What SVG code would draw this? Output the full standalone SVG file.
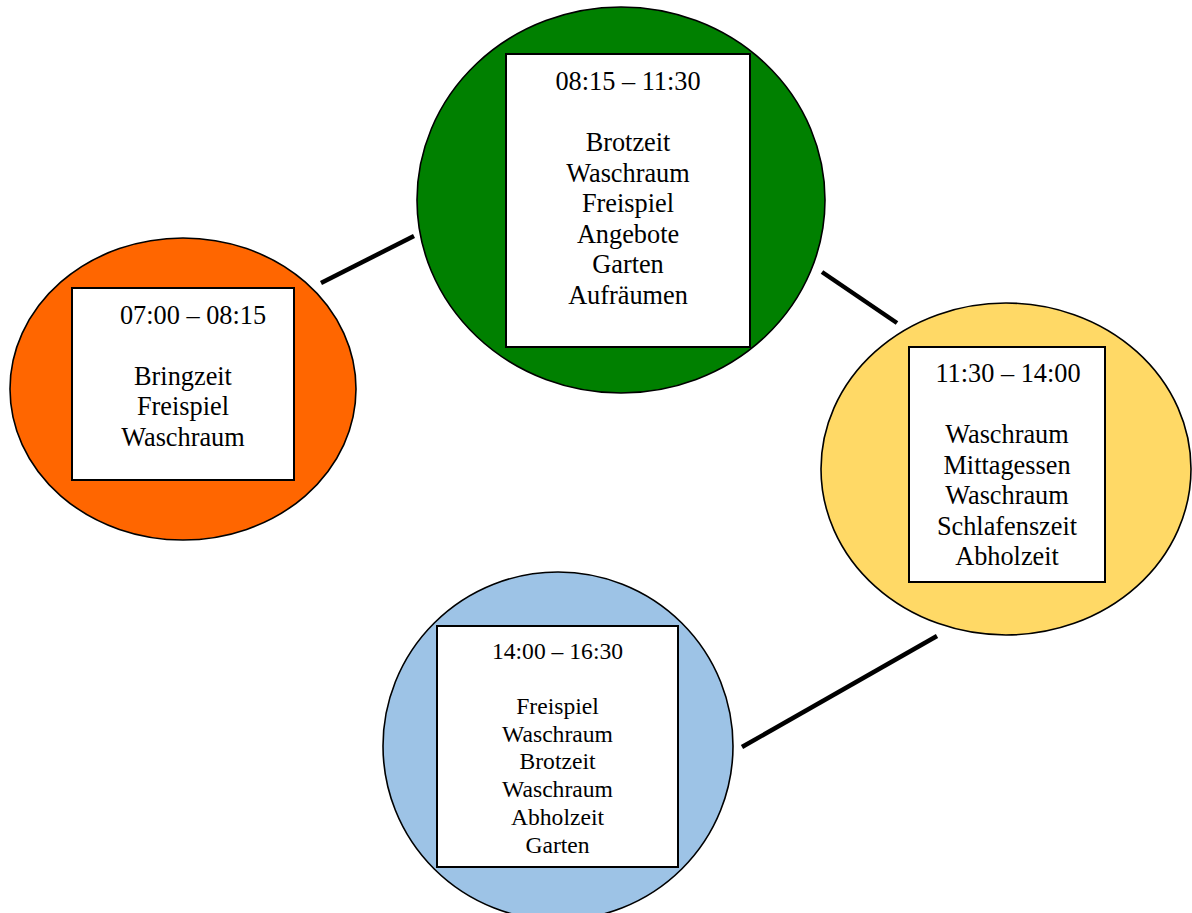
<svg xmlns="http://www.w3.org/2000/svg" width="1192" height="913" viewBox="0 0 1192 913">
<style>
.bg{stroke:#000;stroke-width:1.6}
.box{fill:#fff;stroke:#000;stroke-width:2}
text{font-family:"Liberation Serif","Times New Roman",serif;fill:#000;text-anchor:middle}
.t{font-size:26.3px}
.s{font-size:23.6px}
.con line{stroke:#000;stroke-width:4.5}
</style>
<rect width="1192" height="913" fill="#fff"/>
<g id="node-morning">
<ellipse class="bg" cx="183" cy="389" rx="173" ry="151" fill="#FF6600"/>
<rect class="box" x="72" y="288" width="222" height="192"/>
<text class="t" x="193" y="324">07:00 – 08:15</text>
<text class="t" x="183" y="385">Bringzeit</text>
<text class="t" x="183" y="415">Freispiel</text>
<text class="t" x="183" y="446">Waschraum</text>
</g>
<g id="node-forenoon">
<ellipse class="bg" cx="621" cy="200" rx="204" ry="193" fill="#008000"/>
<rect class="box" x="506" y="54" width="244" height="293"/>
<text class="t" x="628" y="90">08:15 – 11:30</text>
<text class="t" x="628" y="151">Brotzeit</text>
<text class="t" x="628" y="182">Waschraum</text>
<text class="t" x="628" y="212">Freispiel</text>
<text class="t" x="628" y="243">Angebote</text>
<text class="t" x="628" y="273">Garten</text>
<text class="t" x="628" y="304">Aufräumen</text>
</g>
<g id="node-midday">
<ellipse class="bg" cx="1006" cy="469" rx="185" ry="166" fill="#FFD966"/>
<rect class="box" x="909" y="347" width="196" height="235"/>
<text class="t" x="1008" y="382">11:30 – 14:00</text>
<text class="t" x="1007" y="443">Waschraum</text>
<text class="t" x="1007" y="474">Mittagessen</text>
<text class="t" x="1007" y="504">Waschraum</text>
<text class="t" x="1007" y="535">Schlafenszeit</text>
<text class="t" x="1007" y="565">Abholzeit</text>
</g>
<g id="node-afternoon">
<ellipse class="bg" cx="558" cy="746" rx="175" ry="174" fill="#9DC3E6"/>
<rect class="box" x="437" y="626" width="241" height="241"/>
<text class="s" x="557.5" y="659">14:00 – 16:30</text>
<text class="s" x="557.5" y="714">Freispiel</text>
<text class="s" x="557.5" y="742">Waschraum</text>
<text class="s" x="557.5" y="769">Brotzeit</text>
<text class="s" x="557.5" y="797">Waschraum</text>
<text class="s" x="557.5" y="825">Abholzeit</text>
<text class="s" x="557.5" y="853">Garten</text>
</g>
<g id="connectors" class="con">
<line x1="321" y1="283" x2="414" y2="236"/>
<line x1="822" y1="272" x2="897" y2="323"/>
<line x1="742" y1="747" x2="937" y2="636"/>
</g>
</svg>
